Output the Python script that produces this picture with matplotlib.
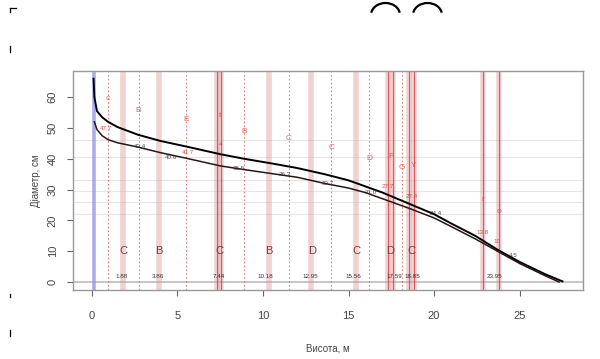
import matplotlib
matplotlib.use("Agg")
import matplotlib.pyplot as plt
from matplotlib.lines import Line2D
from matplotlib.patches import Arc

plt.rcParams['font.family'] = ['Liberation Sans', 'DejaVu Sans']

# ---- data ----
upper_x = [0.1, 0.15, 0.3, 0.6, 0.95, 1.5, 2.7, 4.0, 5.5, 7.5, 8.9, 10.5, 12.0, 13.6, 15.0, 16.0,
           17.0, 18.5, 20.0, 21.0, 22.4, 23.7, 25.0, 26.5, 27.5]
upper_y = [66, 60, 55.5, 53.5, 52, 50.3, 47.8, 45.8, 44, 41.5, 40, 38.5, 37, 35, 33, 31,
           29, 25.5, 22, 19, 15, 10.5, 6.5, 2.5, 0.2]
lower_x = [0.15, 0.3, 0.6, 0.95, 1.5, 2.7, 4.0, 5.5, 7.5, 8.9, 10.5, 12.0, 13.6, 15.0, 16.0,
           17.0, 18.5, 20.0, 21.0, 22.4, 23.7, 25.0, 26.5, 27.3]
lower_y = [52, 49.5, 47.5, 46.2, 45.2, 43.8, 42, 40.2, 37.7, 36.5, 35.2, 34, 32, 30.5, 29,
           27, 24, 20.8, 18, 14, 10, 6, 2, 0]

blue_x = 0.13
band_x = [1.82, 3.9, 7.3, 7.55, 10.35, 12.83, 15.43, 17.33, 17.58, 18.55, 18.84, 22.85, 23.8]
solid_x = [7.3, 7.55, 17.33, 17.58, 18.55, 18.84, 22.85, 23.8]
dotted_x = [0.95, 2.73, 5.5, 8.9, 11.55, 14.0, 16.2, 18.1]

grade_x = [1.82, 3.9, 7.45, 10.35, 12.85, 15.45, 17.45, 18.7]
grade_lab = ['C', 'B', 'C', 'B', 'D', 'C', 'D', 'C']
pos_x = [1.73, 3.86, 7.44, 10.15, 12.77, 15.3, 17.7, 18.7, 23.5]
pos_lab = ['1.88', '3.86', '7.44', '10.18', '12.95', '15.56', '17.59', '18.85', '23.95']

top_x = [0.95, 2.73, 5.5, 7.5, 8.9, 11.5, 14.0, 16.2, 17.5, 18.1, 18.8, 22.85, 23.8]
top_y = [59.7, 55.8, 52.6, 54.0, 49.0, 46.5, 43.8, 40.2, 40.7, 37.3, 37.7, 26.8, 23.0]
top_lab = ['c', 'B', 'E', 't', 'B', 'C', 'C', 'D', 'F', 'G', 'Y', 'r', 'o']

num_x = [0.85, 2.8, 4.6, 5.6, 7.5, 8.6, 11.3, 13.8, 16.3, 17.3, 18.7, 20.1, 22.85, 23.7, 24.6]
num_y = [49.7, 43.9, 40.4, 42.0, 44.5, 37.0, 34.8, 32.0, 28.9, 31.0, 27.8, 22.3, 16.2, 13.3, 8.5]
num_lab = ['47.7', '43.4', '40.6', '41.7', '4', '38.5', '36.3', '33.7', '31.0', '27.7',
           '27.4', '24.4', '13.8', '10', '4.5']
num_col = ['r', 'k', 'k', 'r', 'r', 'k', 'k', 'k', 'k', 'r', 'r', 'k', 'r', 'r', 'k']

hgrid_y = [22, 26, 29.4, 33, 40.6, 46]

x_ticks = [0, 5, 10, 15, 20, 25]
y_ticks = [0, 10, 20, 30, 40, 50, 60]

# ---- figure ----
fig = plt.figure(figsize=(6.0, 3.59), dpi=100)
ax = fig.add_axes([73/600, 1-290/359, (583-73)/600, (290-71)/359])
ax.set_xlim(-1.1, 28.7)
ax.set_ylim(-2.6, 68.5)

for y in hgrid_y:
    ax.axhline(y, color='#e6e6e6', lw=0.8, zorder=0)
ax.axhline(0, color='#bdbdbd', lw=1.2, zorder=0)

for x in band_x:
    ax.axvline(x, color='#dc9090', lw=4, alpha=0.4, zorder=1)
for x in solid_x:
    ax.axvline(x, color='#d03a3a', lw=0.8, alpha=0.8, zorder=2)
for x in dotted_x:
    ax.axvline(x, color='#e05555', lw=0.8, ls=(0, (1.5, 2)), alpha=0.75, zorder=2)

ax.axvline(blue_x, color='#9090e8', lw=2.6, alpha=0.75, zorder=2)

ax.plot(upper_x, upper_y, color='black', lw=1.4, zorder=4)
ax.plot(lower_x, lower_y, color='#2a1515', lw=1.1, zorder=4)

for x, t in zip(grade_x, grade_lab):
    ax.text(x, 10, t, color='#7a3a3a', fontsize=8, ha='center', va='center', zorder=5)
for x, t in zip(pos_x, pos_lab):
    ax.text(x, 1.0, t, color='#333333', fontsize=4.5, ha='center', va='bottom', zorder=5)
for x, y, t in zip(top_x, top_y, top_lab):
    ax.text(x, y, t, color='#e04040', fontsize=6, ha='center', va='center', alpha=0.8, zorder=5)
for x, y, t, c in zip(num_x, num_y, num_lab, num_col):
    col = '#d03030' if c == 'r' else '#333333'
    ax.text(x, y, t, color=col, fontsize=4.5, ha='center', va='center', alpha=0.85, zorder=5)

ax.set_xticks(x_ticks)
ax.set_yticks(y_ticks)
ax.set_xticklabels([str(v) for v in x_ticks], fontsize=8, color='#444444')
ax.set_yticklabels([str(v) for v in y_ticks], fontsize=8, color='#444444', rotation=90, va='center')
ax.tick_params(direction='out', length=4, width=0.8, color='#666666')
ax.tick_params(axis='x', pad=11)
ax.tick_params(axis='y', pad=7)
for s in ax.spines.values():
    s.set_color('#999999')
    s.set_linewidth(1.0)
ax.set_xlabel('Висота, м', fontsize=7, color='#444444', labelpad=16)
ax.set_ylabel('Діаметр, см', fontsize=7, color='#444444', labelpad=5)

# stray marks around the figure
def fl(x0, y0, x1, y1):
    fig.add_artist(Line2D([x0/600, x1/600], [1-y0/359, 1-y1/359], color='black', lw=0.9))
fl(10, 8, 16, 8)
fl(10, 8, 10, 12)
fl(10, 46, 10, 52)
fl(10, 294, 10, 297)
fl(10, 330, 10, 336)
for cx in (385.5, 427.5):
    fig.add_artist(Arc((cx/600, 1-15/359), 29/600, 24/359, theta1=15, theta2=165,
                       transform=fig.transFigure, color='black', lw=1.6))

fig.savefig('out.png', dpi=100)
